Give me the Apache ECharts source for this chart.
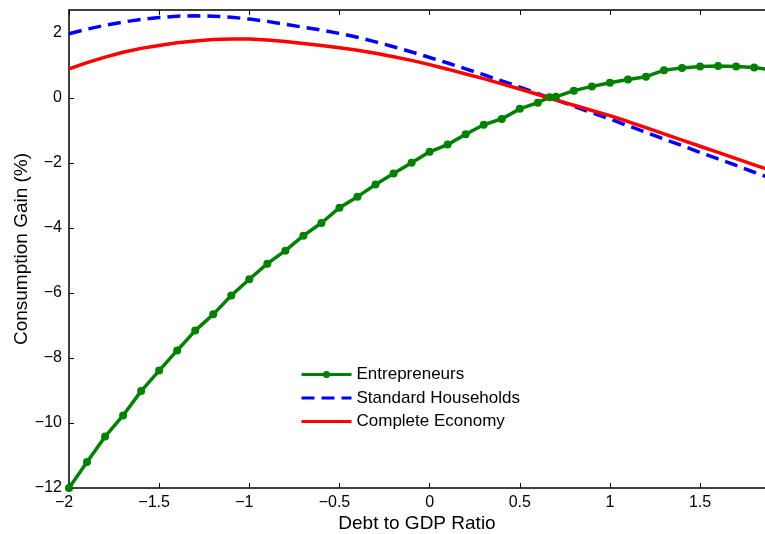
<!DOCTYPE html>
<html>
<head>
<meta charset="utf-8">
<script src="https://cdn.jsdelivr.net/npm/echarts@6/dist/echarts.min.js"></script>
<style>
html,body{margin:0;padding:0;background:#fff;}
#chart{width:765px;height:534px;}
</style>
</head>
<body>
<div id="chart"></div>
<script>
// Debt to GDP ratio grid (x)
const gridX = [-2.0,-1.9,-1.8,-1.7,-1.6,-1.5,-1.4,-1.3,-1.2,-1.1,-1.0,-0.9,-0.8,-0.7,-0.6,-0.5,-0.4,-0.3,-0.2,-0.1,0.0,0.1,0.2,0.3,0.4,0.5,0.6,0.7,0.8,0.9,1.0,1.1,1.2,1.3,1.4,1.5,1.6,1.7,1.8,1.9];
const householdsY = [1.97,2.11,2.23,2.33,2.41,2.47,2.51,2.52,2.51,2.48,2.42,2.35,2.26,2.17,2.08,1.98,1.86,1.72,1.57,1.41,1.24,1.07,0.89,0.71,0.52,0.33,0.13,-0.06,-0.26,-0.46,-0.65,-0.86,-1.06,-1.27,-1.47,-1.68,-1.88,-2.08,-2.29,-2.49];
const completeY = [0.89,1.08,1.25,1.40,1.52,1.61,1.69,1.75,1.79,1.81,1.81,1.78,1.73,1.67,1.61,1.54,1.46,1.37,1.26,1.15,1.02,0.88,0.73,0.59,0.43,0.27,0.10,-0.07,-0.23,-0.39,-0.55,-0.73,-0.92,-1.11,-1.30,-1.49,-1.68,-1.87,-2.06,-2.25];
// Entrepreneurs (marked points)
const entreX = [-2.0,-1.9,-1.8,-1.7,-1.6,-1.5,-1.4,-1.3,-1.2,-1.1,-1.0,-0.9,-0.8,-0.7,-0.6,-0.5,-0.4,-0.3,-0.2,-0.1,0.0,0.1,0.2,0.3,0.4,0.5,0.6,0.665,0.7,0.8,0.9,1.0,1.1,1.2,1.3,1.4,1.5,1.6,1.7,1.8,1.9];
const entreY = [-12.0,-11.2,-10.42,-9.77,-9.02,-8.39,-7.77,-7.16,-6.66,-6.08,-5.58,-5.1,-4.7,-4.24,-3.85,-3.38,-3.04,-2.67,-2.33,-2.0,-1.66,-1.44,-1.12,-0.83,-0.65,-0.34,-0.15,0.02,0.03,0.22,0.35,0.46,0.56,0.65,0.85,0.92,0.96,0.98,0.96,0.93,0.86];
const seriesNames = ['Entrepreneurs','Standard Households','Complete Economy'];
const xName = 'Debt to GDP Ratio';
const yName = 'Consumption Gain (%)';

const pairs = (xs, ys) => xs.map((x, i) => [x, ys[i]]);
const fmt = v => String(+v.toFixed(2)).replace('-', '\u2212');
const fmtX = v => v < 0 ? '{n|' + fmt(v) + '}' : fmt(v);
const FONT = 'Liberation Sans';

const chart = echarts.init(document.getElementById('chart'));
chart.setOption({
  animation: false,
  backgroundColor: '#fff',
  textStyle: {fontFamily: FONT},
  grid: {left: 69, right: 0, top: 10, bottom: 46, outerBoundsMode: 'none', containLabel: false},
  legend: {
    orient: 'vertical',
    left: 295, top: 361,
    itemWidth: 50, itemHeight: 9, itemGap: 6.5,
    lineStyle: {width: 3},
    textStyle: {fontFamily: FONT, fontSize: 17, color: '#000'},
    data: [
      {name: seriesNames[0]},
      {name: seriesNames[1], itemStyle: {opacity: 0}},
      {name: seriesNames[2], itemStyle: {opacity: 0}}
    ]
  },
  xAxis: [{
    type: 'value', min: -2, max: 1.86, interval: 0.5,
    name: xName, nameLocation: 'middle', nameGap: 26, nameMoveOverlap: false,
    nameTextStyle: {fontFamily: FONT, fontSize: 19, color: '#000'},
    axisLine: {onZero: false, lineStyle: {color: '#000', width: 1.5}},
    axisTick: {inside: true, length: 5, lineStyle: {color: '#000'}},
    axisLabel: {
      formatter: fmtX, color: '#000', fontFamily: FONT, fontSize: 16, margin: 7, showMaxLabel: false,
      rich: {n: {fontFamily: FONT, fontSize: 16, color: '#000', padding: [0, 10, 0, 0]}}
    },
    splitLine: {show: false}
  }, {
    type: 'value', position: 'top', min: -2, max: 1.86, interval: 0.5,
    axisLine: {onZero: false, lineStyle: {color: '#000', width: 1.5}},
    axisTick: {inside: true, length: 5, lineStyle: {color: '#000'}},
    axisLabel: {show: false},
    splitLine: {show: false}
  }],
  yAxis: {
    type: 'value', min: -12, max: 2.7, interval: 2,
    name: yName, nameLocation: 'middle', nameGap: 38, nameMoveOverlap: false,
    nameTextStyle: {fontFamily: FONT, fontSize: 19, color: '#000'},
    axisLine: {onZero: false, lineStyle: {color: '#000', width: 1.5}},
    axisTick: {inside: true, length: 5, lineStyle: {color: '#000'}},
    axisLabel: {formatter: fmt, color: '#000', fontFamily: FONT, fontSize: 16, margin: 7, showMaxLabel: false},
    splitLine: {show: false}
  },
  series: [{
    name: seriesNames[0], type: 'line', data: pairs(entreX, entreY),
    symbol: 'circle', symbolSize: 8, showAllSymbol: true,
    itemStyle: {color: '#008000'},
    lineStyle: {color: '#008000', width: 3.5}
  }, {
    name: seriesNames[1], type: 'line', data: pairs(gridX, householdsY),
    symbol: 'none',
    itemStyle: {color: '#0000ff'},
    lineStyle: {color: '#0000ff', width: 3.5, type: [13, 7]}
  }, {
    name: seriesNames[2], type: 'line', data: pairs(gridX, completeY),
    symbol: 'none',
    itemStyle: {color: '#ff0000'},
    lineStyle: {color: '#ff0000', width: 3.5}
  }]
});
</script>
</body>
</html>
